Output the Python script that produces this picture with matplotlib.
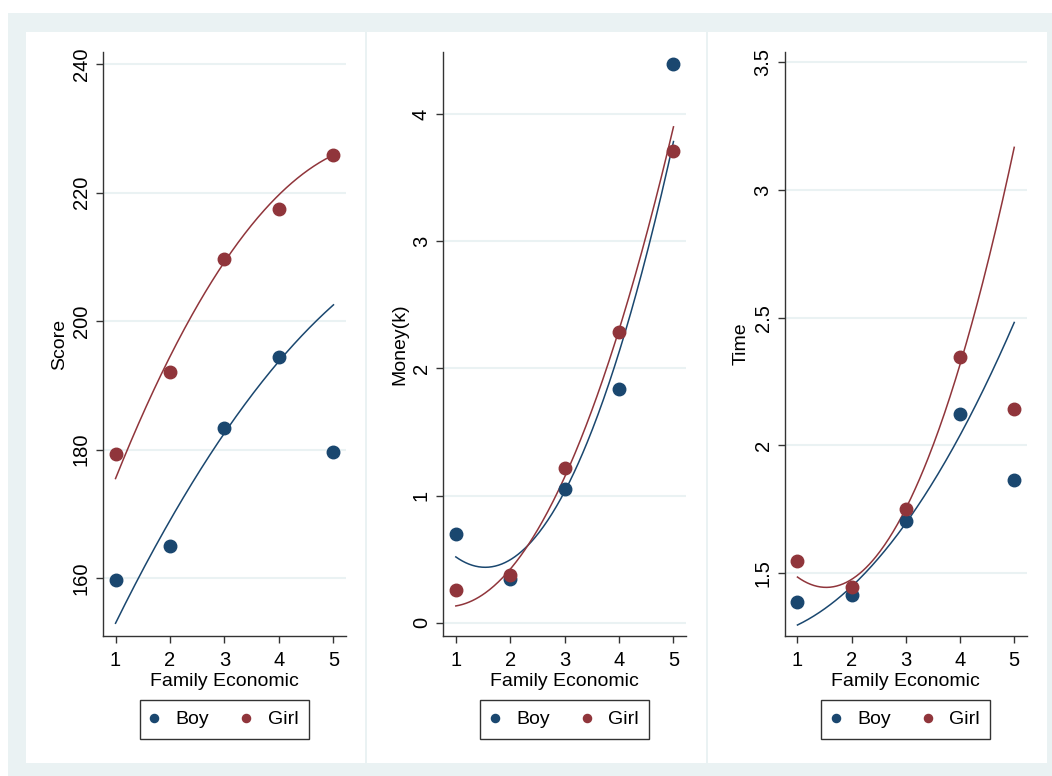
import numpy as np
import matplotlib
matplotlib.use("Agg")
import matplotlib.pyplot as plt
from matplotlib.patches import Rectangle

plt.rcParams['font.family'] = ['Liberation Sans', 'DejaVu Sans']

# 数据
econ = [1, 2, 3, 4, 5]
score_boy = [159.7, 165.0, 183.3, 194.4, 179.6]
score_girl = [179.4, 192.1, 209.7, 217.5, 225.8]
money_boy = [0.695, 0.341, 1.052, 1.839, 4.396]
money_girl = [0.26, 0.378, 1.22, 2.287, 3.714]
time_boy = [1.387, 1.414, 1.705, 2.121, 1.865]
time_girl = [1.548, 1.444, 1.752, 2.346, 2.142]

# 二次拟合线在 x=1..5 处的读数
score_boy_fit = [153.0, 169.0, 182.5, 193.9, 202.5]
score_girl_fit = [175.5, 194.5, 209.3, 219.6, 225.9]
money_boy_fit = [0.525, 0.48, 1.03, 2.146, 3.777]
money_girl_fit = [0.126, 0.43, 1.15, 2.29, 3.908]
time_boy_fit = [1.305, 1.432, 1.686, 2.066, 2.469]
time_girl_fit = [1.491, 1.467, 1.733, 2.35, 3.153]

ylabels = ["Score", "Money(k)", "Time"]
yticks = [[160, 180, 200, 220, 240], [0, 1, 2, 3, 4], [1.5, 2, 2.5, 3, 3.5]]
yticklabels = [["160", "180", "200", "220", "240"], ["0", "1", "2", "3", "4"],
               ["1.5", "2", "2.5", "3", "3.5"]]
ylims = [(151, 241.9), (-0.105, 4.49), (1.253, 3.54)]

navy = '#1a476f'
maroon = '#90353b'
bg = '#eaf2f3'

W, H = 1052, 776
fig = plt.figure(figsize=(W / 100, H / 100), dpi=100)


def px_rect(x0, y0, x1, y1, color):
    # 像素坐标（左上为原点）画矩形
    fig.add_artist(Rectangle((x0 / W, 1 - y1 / H), (x1 - x0) / W, (y1 - y0) / H,
                             transform=fig.transFigure, facecolor=color,
                             edgecolor='none', zorder=-10))


px_rect(8, 13, W, H, bg)
for a, b in [(26, 365), (366.5, 706), (707.5, 1047)]:
    px_rect(a, 32, b, 763, 'white')

panels = [
    (103, 346, score_boy, score_girl, score_boy_fit, score_girl_fit),
    (443.3, 686, money_boy, money_girl, money_boy_fit, money_girl_fit),
    (785, 1026.7, time_boy, time_girl, time_boy_fit, time_girl_fit),
]

top, bottom = 52, 636
xs = np.linspace(1, 5, 200)
for i, (l, r, boy, girl, boy_fit, girl_fit) in enumerate(panels):
    ax = fig.add_axes([l / W, 1 - bottom / H, (r - l) / W, (bottom - top) / H])
    ax.set_facecolor('none')
    ax.plot(econ, boy, 'o', color=navy, ms=9, label='Boy', zorder=3)
    ax.plot(econ, girl, 'o', color=maroon, ms=9, label='Girl', zorder=3)
    ax.plot(xs, np.polyval(np.polyfit(econ, boy_fit, 2), xs), color=navy, lw=1.1, zorder=2)
    ax.plot(xs, np.polyval(np.polyfit(econ, girl_fit, 2), xs), color=maroon, lw=1.1, zorder=2)

    ax.set_xlim(0.77, 5.23)
    ax.set_ylim(*ylims[i])
    ax.set_xticks(econ)
    ax.set_yticks(yticks[i])
    ax.set_yticklabels(yticklabels[i])
    ax.grid(axis='y', color=bg, lw=1.5)
    ax.set_axisbelow(True)
    for s in ['top', 'right']:
        ax.spines[s].set_visible(False)
    for s in ['left', 'bottom']:
        ax.spines[s].set_color('#333333')
        ax.spines[s].set_linewidth(1.0)
    ax.tick_params(axis='both', direction='out', length=5, width=1, color='#333333',
                   labelsize=14.5)
    ax.tick_params(axis='x', pad=5.5)
    ax.tick_params(axis='y', labelrotation=90, pad=4)
    for t in ax.get_yticklabels():
        t.set_va('center')
    ax.set_xlabel("Family Economic", fontsize=14, labelpad=2.5)
    ax.set_ylabel(ylabels[i], fontsize=14, labelpad=2.5)

    leg = ax.legend(loc='center', bbox_to_anchor=(0.5, -0.143), ncol=2, fontsize=14,
                    frameon=True, fancybox=False, markerscale=0.65, handletextpad=0.9,
                    columnspacing=1.7, borderpad=0.55, handlelength=0.4, borderaxespad=0)
    leg.get_frame().set_edgecolor('black')
    leg.get_frame().set_linewidth(1.0)

fig.savefig('out.png', dpi=100, facecolor='white')
